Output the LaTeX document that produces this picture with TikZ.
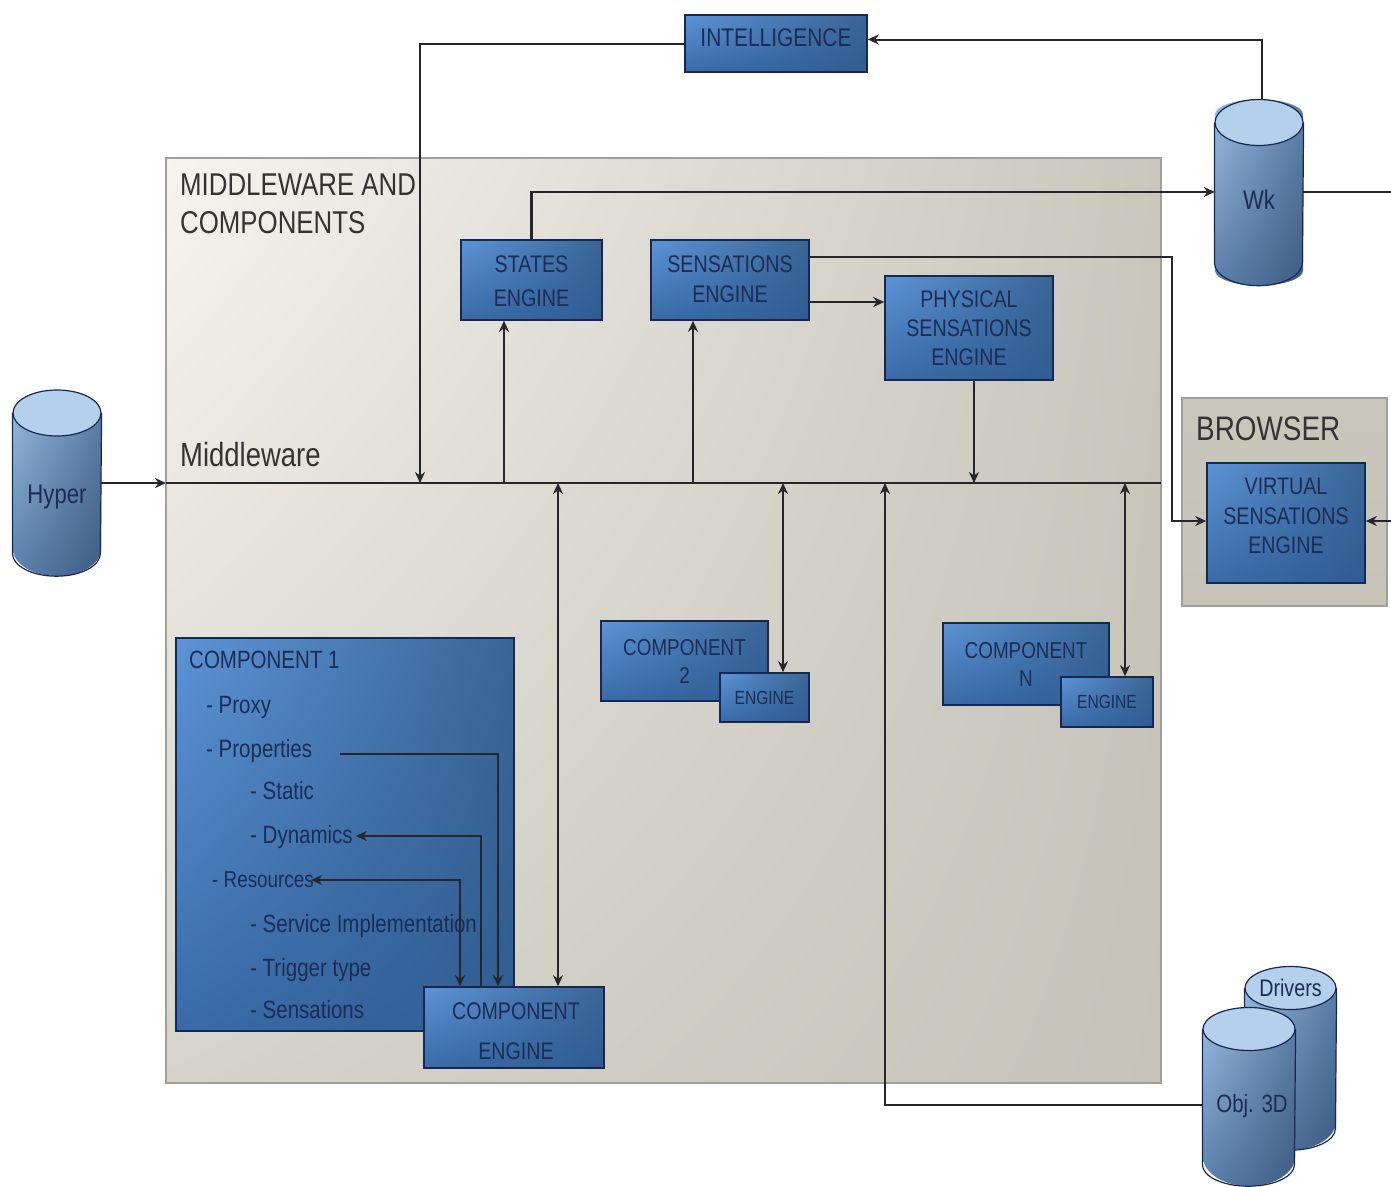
\documentclass[tikz,border=0pt]{standalone}
\usepackage{fontspec}
\setmainfont[FakeStretch=0.82]{Liberation Sans}
\usetikzlibrary{arrows, arrows.meta}
\usetikzlibrary{shapes.geometric, positioning, calc, shadings}
\definecolor{inkblue}{HTML}{1B2C55}
\definecolor{edgeblue}{HTML}{16284F}
\definecolor{linegray}{HTML}{26262A}
\definecolor{boxul}{HTML}{5C94D6}
\definecolor{boxur}{HTML}{3A6596}
\definecolor{boxll}{HTML}{3A6BA8}
\definecolor{boxlr}{HTML}{2F5C92}
\definecolor{panelul}{HTML}{F5F4EF}
\definecolor{panelur}{HTML}{C9C6BC}
\definecolor{panelll}{HTML}{D6D3CA}
\definecolor{panellr}{HTML}{C6C3B9}
\definecolor{drumul}{HTML}{9DBEE2}
\definecolor{drumur}{HTML}{5F81AB}
\definecolor{drumll}{HTML}{5A7FAC}
\definecolor{drumlr}{HTML}{3E5C82}
\definecolor{drumtop}{HTML}{B4D0EC}
\newcommand{\drumedge}[3]{\draw[edgeblue, line width=1.2pt] (#1cap.west) -- ([yshift=#3pt]#1.south -| #1cap.west) arc[start angle=180, end angle=360, x radius=#2pt, y radius=#3pt] -- (#1cap.east);}
\tikzset{
  boxnode/.style={rectangle, draw=edgeblue, line width=1.6pt, inner sep=0pt, align=center, text=inkblue,
    upper left=boxul, upper right=boxur, lower left=boxll, lower right=boxlr,
    font=\fontsize{24}{30}\selectfont},
  boxtext/.style={inner sep=0pt, align=center, text=inkblue, font=\fontsize{24}{30}\selectfont},
  panel/.style={rectangle, draw=gray!75, line width=1.6pt},
  listitem/.style={anchor=west, inner sep=0pt, text=inkblue, font=\fontsize{25}{30}\selectfont},
  heading/.style={anchor=west, inner sep=0pt, align=left, text=black!80, font=\fontsize{31.5}{38}\selectfont},
  drum/.style={shape=cylinder, shape border rotate=90, aspect=0.92, anchor=shape center, inner sep=0pt, text=inkblue,
    upper left=drumul, upper right=drumur, lower left=drumll, lower right=drumlr,
    font=\fontsize{27}{30}\selectfont},
  drumcap/.style={shape=ellipse, draw=edgeblue, line width=1.2pt, inner sep=0pt, text=inkblue, fill=drumtop,
    font=\fontsize{24}{30}\selectfont},
  wire/.style={draw=linegray, line width=2pt},
  wirethick/.style={draw=linegray, line width=2.8pt},
}
\begin{document}
\begin{tikzpicture}[>={Stealth[length=11pt,width=10pt]}, x=1pt, y=-1pt]
  \useasboundingbox (0,0) rectangle (1391,1186);

  \node[panel, minimum width=995pt, minimum height=925pt, upper left=panelul, upper right=panelur, lower left=panelll, lower right=panellr] (mainpanel) at (663.5,620.5) {};
  \node[panel, minimum width=205pt, minimum height=208pt, top color=panelur, middle color=panelul, bottom color=panellr] (browserpanel) at (1284.5,502) {};

  \node[heading] (mwtitle) at (180,204) {MIDDLEWARE AND\\[-0.5pt]COMPONENTS};
  \node[heading, font=\fontsize{33.5}{38}\selectfont] (mwlabel) at (180,455) {Middleware};
  \node[heading, font=\fontsize{34}{38}\selectfont] (browserlabel) at (1196,429) {BROWSER};

  \coordinate (busleft) at (166,483);
  \coordinate (busright) at (1161,483);
  \coordinate (busintel) at (420,483);
  \coordinate (busstates) at (504,483);
  \coordinate (buscompeng) at (558,483);
  \coordinate (bussens) at (693,483);
  \coordinate (buscomptwo) at (783,483);
  \coordinate (busobj) at (885,483);
  \coordinate (busphys) at (974,483);
  \coordinate (buscompn) at (1125,483);
  \coordinate (sensturn) at (1172,257);
  \coordinate (wkout) at (1391,192);
  \coordinate (virtin) at (1391,521);

  \node[boxnode, minimum width=182pt, minimum height=57pt] (intel) at (776,43.5) {};
  \node[boxtext, font=\fontsize{25.5}{30}\selectfont] (inteltext) at (776,38) {INTELLIGENCE};
  \node[boxnode, minimum width=141pt, minimum height=80pt] (states) at (531.5,280) {};
  \node[boxtext, font=\fontsize{24}{34}\selectfont] (statestext) at (531.5,281) {STATES\\ENGINE};
  \node[boxnode, minimum width=158pt, minimum height=80pt] (sens) at (730,280) {};
  \node[boxtext] (senstext) at (730,279) {SENSATIONS\\ENGINE};
  \node[boxnode, minimum width=168pt, minimum height=104pt, font=\fontsize{24}{29}\selectfont] (phys) at (969,328) {PHYSICAL\\SENSATIONS\\ENGINE};
  \node[boxnode, minimum width=158pt, minimum height=120pt] (virt) at (1286,523) {};
  \node[boxtext, font=\fontsize{24}{29.5}\selectfont] (virttext) at (1286,516) {VIRTUAL\\SENSATIONS\\ENGINE};

  \node[boxnode, minimum width=338pt, minimum height=393pt] (compone) at (345,834.5) {};
  \node[listitem] (comptitle) at (189,660) {COMPONENT 1};
  \node[listitem] (proxy) at (206,707) {- Proxy};
  \node[listitem] (properties) at (206,751) {- Properties};
  \node[listitem] (static) at (250,791) {- Static};
  \node[listitem] (dynamics) at (250,837) {- Dynamics};
  \node[listitem, font=\fontsize{23}{30}\selectfont] (resources) at (212,880) {- Resources};
  \node[listitem] (service) at (250,926) {- Service Implementation};
  \node[listitem] (trigger) at (250,970) {- Trigger type};
  \node[listitem] (sensations) at (250,1010) {- Sensations};

  \node[boxnode, minimum width=180pt, minimum height=81pt] (compeng) at (514,1027.5) {};
  \node[boxtext, font=\fontsize{24}{40}\selectfont] (compengtext) at (516,1031) {COMPONENT\\ENGINE};
  \node[boxnode, minimum width=167pt, minimum height=80pt, font=\fontsize{23}{28}\selectfont] (comptwo) at (684.5,661) {COMPONENT\\2};
  \node[boxnode, minimum width=89pt, minimum height=49pt, font=\fontsize{19}{24}\selectfont] (engtwo) at (764.5,697.5) {ENGINE};
  \node[boxnode, minimum width=166pt, minimum height=82pt, font=\fontsize{23}{28}\selectfont] (compn) at (1026,664) {COMPONENT\\N};
  \node[boxnode, minimum width=92pt, minimum height=50pt, font=\fontsize{19}{24}\selectfont] (engn) at (1107,702) {ENGINE};

  \node[drum, minimum width=88pt, minimum height=186pt] (wk) at (1259,192.5) {Wk};
  \node[drumcap, minimum width=88pt, minimum height=46pt] (wkcap) at (1259,122.5) {};
  \drumedge{wk}{44}{23}
  \node[drum, minimum width=88pt, minimum height=186pt] (hyper) at (57,483) {Hyper};
  \node[drumcap, minimum width=88pt, minimum height=46pt] (hypercap) at (57,413) {};
  \drumedge{hyper}{44}{23}
  \node[drum, aspect=0.82, minimum width=91pt, minimum height=184pt] (drivers) at (1290.5,1058) {\phantom{Drivers}};
  \node[drumcap, minimum width=91pt, minimum height=43pt] (driverscap) at (1290.5,988) {Drivers};
  \drumedge{drivers}{45.5}{21.5}
  \node[drum, aspect=0.82, minimum width=92pt, minimum height=179pt, font=\fontsize{25}{30}\selectfont] (obj) at (1249,1096.5) {\phantom{Obj. 3D}};
  \node[drumcap, minimum width=92pt, minimum height=43pt] (objcap) at (1249,1029) {};
  \drumedge{obj}{46}{21.5}
  \node[boxtext, font=\fontsize{25}{30}\selectfont] (objtext) at (1252,1106) {Obj. 3D};

  \draw[wire] (busleft) -- (busright);
  \draw[wirethick, ->] (hyper.east |- busleft) -- (busleft);
  \draw[wire, ->] (intel.west) -| (busintel);
  \draw[wire, ->] ([xshift=3pt]wkcap.north) |- ([yshift=4pt]intel.east);
  \draw[wirethick, ->] (states.north) |- ([yshift=8pt]wk.west);
  \draw[wire] ([yshift=8pt]wk.east) -- ([yshift=8pt]wk.east -| wkout);
  \draw[wire, ->] ([yshift=23pt]sens.east) -- (sensturn) |- ([yshift=2pt]virt.west);
  \draw[wire, ->] ([yshift=-22pt]sens.east) -- ([yshift=26pt]phys.west);
  \draw[wire, ->] (virtin) -- ([yshift=2pt]virt.east);
  \draw[wire, ->] (busstates) -- (busstates |- states.south);
  \draw[wire, ->] (bussens) -- (bussens |- sens.south);
  \draw[wire, ->] (busphys |- phys.south) -- (busphys);
  \draw[wire, <->] (buscompeng) -- (buscompeng |- compeng.north);
  \draw[wire, <->] (buscomptwo) -- (buscomptwo |- engtwo.north);
  \draw[wire, <->] (buscompn) -- (buscompn |- engn.north);
  \draw[wire, ->] ([yshift=6.5pt]obj.west) -| (busobj);
  \draw[wire, ->] ([xshift=28pt,yshift=-3pt]properties.east) -| ([xshift=-16pt]compeng.north);
  \draw[wirethick, ->] ([xshift=-33pt]compeng.north) |- ([yshift=1pt,xshift=3pt]dynamics.east);
  \draw[wirethick, <->] ([xshift=-3pt]resources.east) -| ([xshift=-54pt]compeng.north);
\end{tikzpicture}
\end{document}
